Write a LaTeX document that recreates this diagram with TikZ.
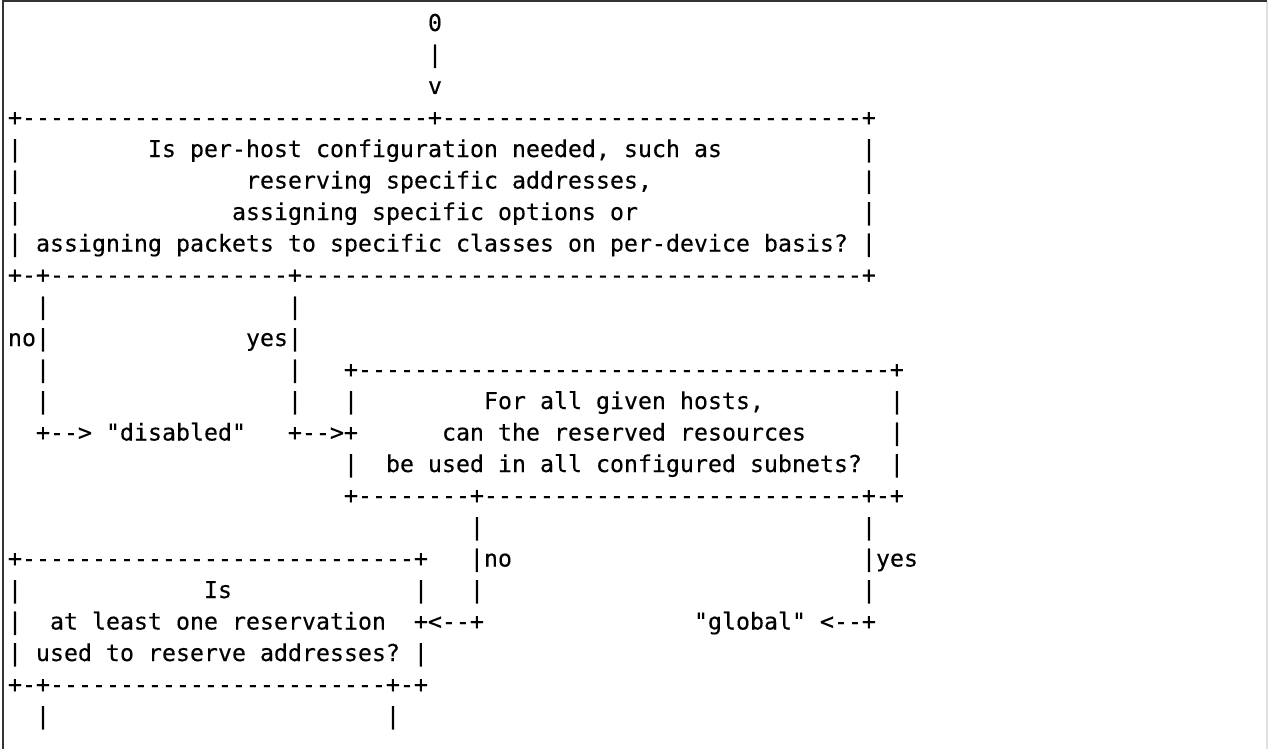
\documentclass[tikz,border=0pt]{standalone}
\usepackage{fontspec}
\setmonofont{DejaVu Sans Mono}[FakeBold=0.3]
\ExplSyntaxOn
\cs_new:Npn \myrep #1#2 { \prg_replicate:nn {#1} {#2} }
\ExplSyntaxOff
\newlength\cw
\setlength\cw{7pt}
\newcommand\sk[1]{\hspace*{#1\cw}}
\tikzset{
  ln/.style={anchor=base west, inner sep=0pt, outer sep=0pt, text=black,
    font=\ttfamily\fontsize{11.627pt}{14pt}\selectfont},
  frame/.style={line width=1pt, draw=black!80},
  frameR/.style={line width=1pt, draw=black!12}
}
\begin{document}
\begin{tikzpicture}[x=0.5pt,y=-0.5pt]
\useasboundingbox (0,0) rectangle (1268,749);
\fill[white] (0,0) rectangle (1268,749);
\coordinate (bl) at (3,749);
\coordinate (tl) at (3,1.2);
\coordinate (tr) at (1267,1.2);
\coordinate (br) at (1267,749);
\draw[frameR] (tr) -- (br);
\draw[frame] (bl) -- (tl) -- (tr);
\def\B{31}
\def\S{31.5}
\newcommand\lin[2]{\node[ln] (l#1) at (8,{\B+(#1-1)*\S}) {#2};}
\lin{1}{\sk{30}0}
\lin{2}{\sk{30}|}
\lin{3}{\sk{30}v}
\lin{4}{+\myrep{29}{-}+\myrep{30}{-}+}
\lin{5}{|\sk{9}Is per-host configuration needed, such as\sk{10}|}
\lin{6}{|\sk{16}reserving specific addresses,\sk{15}|}
\lin{7}{|\sk{15}assigning specific options or\sk{16}|}
\lin{8}{|\sk{1}assigning packets to specific classes on per-device basis?\sk{1}|}
\lin{9}{+-+\myrep{17}{-}+\myrep{40}{-}+}
\lin{10}{\sk{2}|\sk{17}|}
\lin{11}{no|\sk{14}yes|}
\lin{12}{\sk{2}|\sk{17}|\sk{3}+\myrep{38}{-}+}
\lin{13}{\sk{2}|\sk{17}|\sk{3}|\sk{9}For all given hosts,\sk{9}|}
\lin{14}{\sk{2}+-{}->\sk{1}"disabled"\sk{3}+-{}->+\sk{6}can the reserved resources\sk{6}|}
\lin{15}{\sk{24}|\sk{2}be used in all configured subnets?\sk{2}|}
\lin{16}{\sk{24}+\myrep{8}{-}+\myrep{27}{-}+-+}
\lin{17}{\sk{33}|\sk{27}|}
\lin{18}{+\myrep{28}{-}+\sk{3}|no\sk{25}|yes}
\lin{19}{|\sk{13}Is\sk{13}|\sk{3}|\sk{27}|}
\lin{20}{|\sk{2}at least one reservation\sk{2}+<-{}-+\sk{15}"global"\sk{1}<-{}-+}
\lin{21}{|\sk{1}used to reserve addresses?\sk{1}|}
\lin{22}{+-+\myrep{24}{-}+-+}
\lin{23}{\sk{2}|\sk{24}|}
\end{tikzpicture}
\end{document}
